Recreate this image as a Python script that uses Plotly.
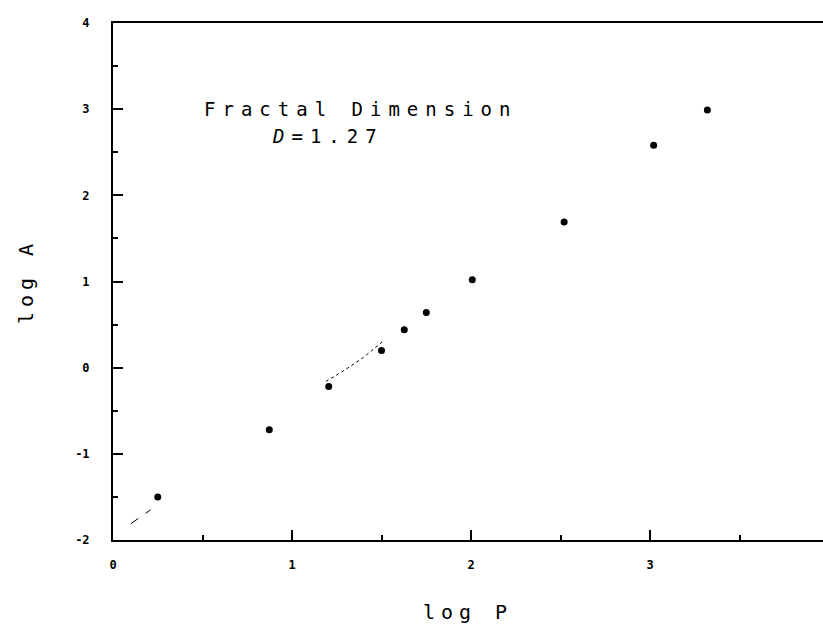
import plotly.graph_objects as go

# data
log_p = [0.25, 0.873, 1.205, 1.50, 1.627, 1.75, 2.007, 2.52, 3.02, 3.32]
log_a = [-1.50, -0.72, -0.22, 0.20, 0.44, 0.64, 1.02, 1.69, 2.58, 2.99]

dash_x = [0.10, 0.21]
dash_y = [-1.81, -1.65]
dot_x = [1.19, 1.30, 1.40, 1.51]
dot_y = [-0.16, -0.02, 0.12, 0.31]

x_ticks = [0, 1, 2, 3]
x_ticklabels = ["0", "1", "2", "3"]
y_ticks = [-2, -1, 0, 1, 2, 3, 4]
y_ticklabels = ["-2", "-1", "0", "1", "2", "3", "4"]

FONT = "DejaVu Sans Mono"

fig = go.Figure()
fig.add_trace(go.Scatter(x=dash_x, y=dash_y, mode="lines",
                         line=dict(color="black", width=1, dash="dash"),
                         showlegend=False, hoverinfo="skip"))
fig.add_trace(go.Scatter(x=dot_x, y=dot_y, mode="lines",
                         line=dict(color="black", width=1, dash="dot"),
                         showlegend=False, hoverinfo="skip"))
fig.add_trace(go.Scatter(x=log_p, y=log_a, mode="markers",
                         marker=dict(color="black", size=7),
                         showlegend=False))

fig.add_annotation(x=1.38, y=3.0, xref="x", yref="y",
                   text='<span style="letter-spacing:7px">Fractal Dimension</span>',
                   showarrow=False, xanchor="center", yanchor="middle",
                   font=dict(family=FONT, size=19, color="black"))
fig.add_annotation(x=1.20, y=2.69, xref="x", yref="y",
                   text='<span style="letter-spacing:7px"><i>D</i>=1.27</span>',
                   showarrow=False, xanchor="center", yanchor="middle",
                   font=dict(family=FONT, size=19, color="black"))

fig.update_layout(
    width=823, height=627,
    margin=dict(l=113, r=0, t=23, b=87),
    plot_bgcolor="white", paper_bgcolor="white",
    font=dict(family=FONT, color="black"),
)
fig.update_xaxes(
    range=[0, 3.966], showgrid=False, zeroline=False,
    showline=True, linecolor="black", linewidth=2, mirror=True,
    tickmode="array", tickvals=x_ticks, ticktext=x_ticklabels,
    ticks="inside", ticklen=10, tickwidth=1.5, tickcolor="black",
    minor=dict(dtick=0.5, ticks="inside", ticklen=5, tickcolor="black", tickwidth=1.5, showgrid=False),
    tickfont=dict(family=FONT, size=12, color="black", weight="bold"),
    ticklabelstandoff=13,
    title=dict(text='<span style="letter-spacing:6px">log P</span>',
               font=dict(family=FONT, size=20, color="black"), standoff=34),
)
fig.update_yaxes(
    range=[-2, 4], showgrid=False, zeroline=False,
    showline=True, linecolor="black", linewidth=2, mirror=False,
    tickmode="array", tickvals=y_ticks, ticktext=y_ticklabels,
    ticks="inside", ticklen=10, tickwidth=1.5, tickcolor="black",
    minor=dict(dtick=0.5, ticks="inside", ticklen=5, tickcolor="black", tickwidth=1.5, showgrid=False),
    tickfont=dict(family=FONT, size=12, color="black", weight="bold"),
    ticklabelstandoff=19,
    title=dict(text='<span style="letter-spacing:5px">log A</span>',
               font=dict(family=FONT, size=20, color="black"), standoff=36),
)

fig.write_html("out.html")
